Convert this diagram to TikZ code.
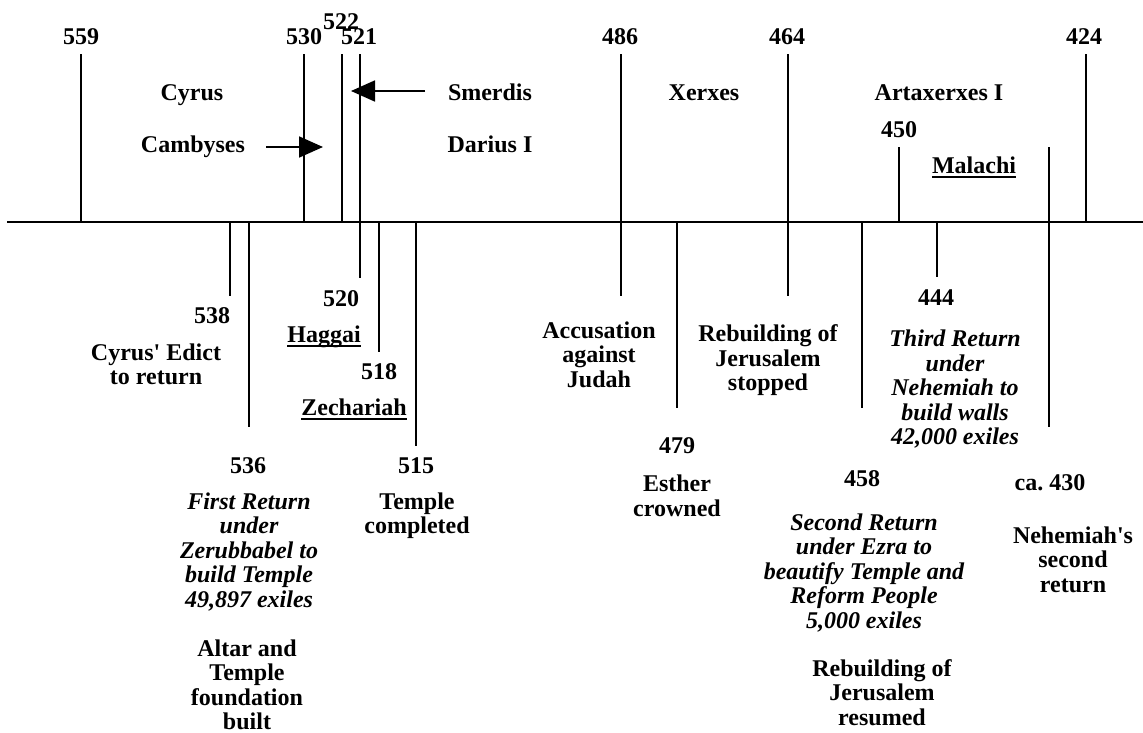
\documentclass[tikz,border=0pt]{standalone}
\usepackage{fontspec}
\setmainfont{Liberation Serif}
\usetikzlibrary{arrows.meta}
\newcommand\ml[1]{\begin{tabular}[t]{@{}c@{}}#1\end{tabular}}
\newcommand\ulx[1]{\setbox0\hbox{#1}\rlap{\rule[-5pt]{\wd0}{2pt}}\box0}
\begin{document}
\begin{tikzpicture}[x=1pt,y=-1pt,
  every node/.style={inner sep=0pt,anchor=base,font=\fontsize{24}{24.5}\selectfont\bfseries},
  itl/.style={font=\fontsize{24}{24.5}\selectfont\bfseries\itshape},
  tick/.style={line width=1.8pt},
  axisline/.style={line width=2pt},
  pointer/.style={line width=1.8pt,-{Triangle[length=24pt,width=21pt]}}]
\useasboundingbox (0,0) rectangle (1143,732);
% axis
\coordinate (axL) at (7,222);
\coordinate (axR) at (1143,222);
\draw[axisline] (axL) -- (axR);
% ticks: name, x, top, bottom
\foreach \n/\x/\a/\b in {
  t559/81/54/222, t530/304/54/222, t522/342/54/222, t521/360/54/278,
  t486/621/54/296, t464/788/54/296, t424/1086/54/222, t450/899/147/222,
  t430/1049/147/427, t538/230/222/296, t536/249/222/427, t518/379/222/352,
  t515/416/222/446, t479/677/222/408, t458/862/222/408, t444/937/222/277}{
  \coordinate (\n a) at (\x,\a);
  \coordinate (\n b) at (\x,\b);
  \draw[tick] (\n a) -- (\n b);
}
% top labels
\node (l559) at (81,44.5) {559};
\node (l530) at (304,44.5) {530};
\node (l522) at (341,29.3) {522};
\node (l521) at (359,44.5) {521};
\node (l486) at (620,44.5) {486};
\node (l464) at (787,44.5) {464};
\node (l424) at (1084,44.5) {424};
\node (cyrus) at (192,100) {Cyrus};
\node (cambyses) at (193,152) {Cambyses};
\node (smerdis) at (490,100) {Smerdis};
\node (darius) at (490,152) {Darius I};
\node (xerxes) at (704,100) {Xerxes};
\node (artax) at (939,100) {Artaxerxes I};
\node (l450) at (899,137.5) {450};
\node (malachi) at (974,173) {\ulx{Malachi}};
% arrows
\coordinate (camA) at (266,147);
\coordinate (camB) at (323,147);
\draw[pointer] (camA) -- (camB);
\coordinate (smA) at (425,91);
\coordinate (smB) at (351,91);
\draw[pointer] (smA) -- (smB);
% bottom labels
\node (l538) at (212,323) {538};
\node (edict) at (156,360) {\ml{Cyrus\textquotesingle{} Edict\\to return}};
\node (l520) at (341,306) {520};
\node (haggai) at (324,342) {\ulx{Haggai}};
\node (l518) at (379,379) {518};
\node (zech) at (354,415) {\ulx{Zechariah}};
\node (l536) at (248,473) {536};
\node[itl] (first) at (249,509) {\ml{First Return\\under\\Zerubbabel to\\build Temple\\49,897 exiles}};
\node (altar) at (247,656) {\ml{Altar and\\Temple\\foundation\\built}};
\node (l515) at (416,473) {515};
\node (templec) at (417,509) {\ml{Temple\\completed}};
\node (accus) at (599,338) {\ml{Accusation\\against\\Judah}};
\node (stopped) at (768,341.7) {\ml{Rebuilding of\\Jerusalem\\stopped}};
\node (l479) at (677,453) {479};
\node (esther) at (677,491.7) {\ml{Esther\\crowned}};
\node (l458) at (862,486.7) {458};
\node[itl] (second) at (864,530) {\ml{Second Return\\under Ezra to\\beautify Temple and\\Reform People\\5,000 exiles}};
\node (resumed) at (882,676) {\ml{Rebuilding of\\Jerusalem\\resumed}};
\node (l444) at (936,305) {444};
\node[itl] (third) at (955,346.7) {\ml{Third Return\\under\\Nehemiah to\\build walls\\42,000 exiles}};
\node (l430) at (1050,490) {ca.\ 430};
\node (nehem) at (1073,543) {\ml{Nehemiah\textquotesingle s\\second\\return}};
\end{tikzpicture}
\end{document}
